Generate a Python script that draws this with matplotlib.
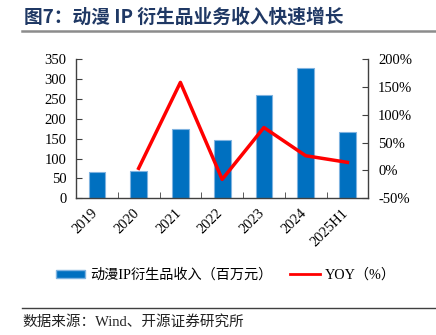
import matplotlib
matplotlib.use("Agg")
import matplotlib.pyplot as plt
from matplotlib.patches import Patch
from matplotlib.lines import Line2D
import numpy as np

plt.rcParams['font.family'] = ['Liberation Serif', 'Noto Sans CJK SC', 'DejaVu Sans']

categories = ["2019", "2020", "2021", "2022", "2023", "2024", "2025H1"]
revenue = [65.3, 67.8, 175, 146.5, 259, 326.6, 165.8]
yoy_labels = ["2020", "2021", "2022", "2023", "2024", "2025H1"]
yoy = [3.8, 158, -16, 77, 26.4, 14.5]

left_ticks = [0, 50, 100, 150, 200, 250, 300, 350]
right_ticks = [-50, 0, 50, 100, 150, 200]

W, H = 436, 335
fig = plt.figure(figsize=(W / 100, H / 100), dpi=100)

ax = fig.add_axes([76 / W, 1 - 198.3 / H, (368.3 - 76) / W, (198.3 - 59) / H])
x = np.arange(len(categories))
ax.bar(x, revenue, width=0.4, color="#0070C0", edgecolor="#7FB3E0", linewidth=0.8, zorder=2)
ax.set_xlim(-0.5, len(categories) - 0.5)
ax.set_ylim(0, 350)
ax.set_yticks(left_ticks)
ax.set_yticklabels([str(t) for t in left_ticks], fontsize=10.5)
ax.set_xticks(x + 0.08)
ax.set_xticklabels(categories, rotation=45, fontsize=10.5, ha="right", va="top",
                   rotation_mode="default")
ax.set_xticks(np.arange(len(categories) + 1) - 0.5, minor=True)
ax.tick_params(axis="x", which="major", length=0, pad=6)
ax.tick_params(axis="x", which="minor", direction="in", length=4, color="#404040")
ax.tick_params(axis="y", direction="in", length=4, color="#404040", pad=7)
for s in ["top", "right"]:
    ax.spines[s].set_visible(False)
for s in ["left", "bottom"]:
    ax.spines[s].set_color("#404040")
    ax.spines[s].set_linewidth(1.0)

ax2 = ax.twinx()
xi = [categories.index(c) for c in yoy_labels]
ax2.plot(xi, yoy, color="#FF0000", linewidth=2.5, zorder=3)
ax2.set_ylim(-50, 200)
ax2.set_yticks(right_ticks)
ax2.set_yticklabels([f"{t}%" for t in right_ticks], fontsize=10.5)
ax2.tick_params(axis="y", direction="in", length=4, color="#404040", pad=7)
for s in ["top", "left", "bottom"]:
    ax2.spines[s].set_visible(False)
ax2.spines["right"].set_color("#404040")
ax2.spines["right"].set_linewidth(1.0)

# Title
fig.text(24 / W, 1 - 17 / H, "图7：动漫 IP 衍生品业务收入快速增长", fontsize=13.5,
         fontweight="bold", color="#1F3864", va="center", ha="left",
         family=['Noto Sans CJK SC', 'DejaVu Sans'])
fig.add_artist(Line2D([22 / W, 1], [1 - 31 / H, 1 - 31 / H], color="#8C8C8C", linewidth=1.8))

# Legend
handles = [Patch(facecolor="#0070C0", edgecolor="#7FB3E0"),
           Line2D([0], [0], color="#FF0000", linewidth=2)]
labels = ["动漫IP衍生品收入（百万元）", "YOY（%）"]
fig.legend(handles, labels, loc="center", bbox_to_anchor=(226 / W, 1 - 275 / H),
           ncol=2, frameon=False, handlelength=2.05, handleheight=0.45,
           columnspacing=1.25, handletextpad=0.4,
           prop={"family": ['Liberation Serif', 'Noto Sans CJK SC'], "size": 10.2})

# Source
fig.add_artist(Line2D([22 / W, 1], [1 - 308 / H, 1 - 308 / H], color="#404040", linewidth=1.0))
fig.text(22 / W, 1 - 322 / H, "数据来源：Wind、开源证券研究所", fontsize=10.5, va="center", ha="left",
         family=['Liberation Serif', 'Noto Sans CJK SC'], color="#222222")

fig.savefig("out.png", dpi=100)
